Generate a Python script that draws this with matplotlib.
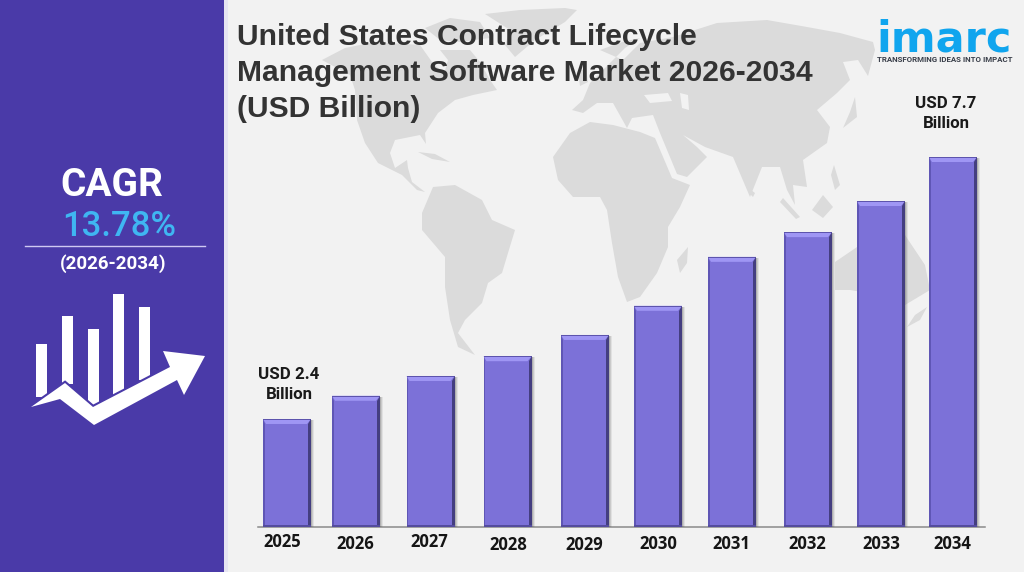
import matplotlib
matplotlib.use('Agg')
import matplotlib.pyplot as plt
from matplotlib.patches import Polygon, Rectangle

years = ['2025', '2026', '2027', '2028', '2029', '2030', '2031', '2032', '2033', '2034']
market_size = [2.40, 2.87, 3.27, 3.67, 4.10, 4.69, 5.68, 6.18, 6.81, 7.70]

# layout, in reference pixels
bar_centers = [287, 356, 430.5, 507.5, 585, 658, 732, 808, 881, 953]
bar_width = 48
label_x = [282, 355, 429, 508, 584, 658, 731, 807, 881, 952]
label_y = [542, 544, 542, 545, 545, 544, 544, 544, 544, 544]
BASELINE = 527
TOP_PX = 100
BASE_VALUE = 0.215
VALUE_PER_PX = 0.02023

BG = '#f2f2f2'
SIDEBAR = '#4a3aa8'
LAND = '#dbdbdb'
BAR = '#7c71d8'

# background map, rough outlines
north_america = [(322, 60), (345, 48), (375, 42), (420, 45), (432, 62), (444, 74), (448, 60), (440, 50), (470, 50),
                 (480, 62), (490, 80), (497, 90), (473, 95), (455, 100), (438, 113), (425, 133), (426, 144), (420, 135),
                 (395, 140), (390, 153), (395, 168), (407, 160), (408, 168), (412, 182), (425, 192), (417, 190),
                 (402, 175), (378, 163), (365, 143), (357, 120), (355, 90), (350, 75)]
greenland = [(485, 14), (520, 10), (565, 8), (577, 10), (565, 22), (535, 40), (515, 57), (505, 45), (510, 30)]
arctic = [(425, 28), (450, 18), (480, 22), (490, 38), (460, 42), (440, 40)]
cuba = [(418, 152), (435, 154), (450, 162), (432, 159)]
south_america = [(433, 187), (455, 185), (482, 200), (492, 220), (515, 230), (508, 253), (502, 273), (488, 283),
                 (482, 303), (465, 320), (458, 333), (475, 355), (458, 347), (450, 320), (445, 287), (445, 257),
                 (422, 230), (422, 213)]
africa = [(553, 157), (570, 133), (590, 122), (613, 125), (640, 132), (655, 138), (672, 178), (690, 185), (680, 207),
          (668, 227), (668, 247), (657, 273), (640, 297), (627, 302), (618, 277), (612, 243), (607, 210), (600, 197),
          (573, 197), (558, 180)]
madagascar = [(688, 247), (687, 263), (680, 273), (677, 260)]
eurasia = [(583, 100), (572, 110), (583, 113), (597, 103), (613, 103), (627, 128), (632, 118), (653, 115), (660, 133),
           (677, 174), (687, 177), (707, 157), (697, 147), (683, 135), (705, 147), (733, 157), (750, 197), (762, 167),
           (780, 167), (787, 190), (795, 205), (793, 185), (807, 187), (803, 160), (827, 143), (830, 127), (817, 110),
           (837, 93), (850, 80), (843, 62), (858, 60), (868, 76), (875, 50), (873, 42), (840, 33), (807, 27), (767, 20),
           (717, 23), (673, 37), (640, 43), (623, 60), (600, 50), (622, 42), (640, 38), (625, 48), (590, 83)]
black_sea = [(644, 95), (668, 93), (672, 101), (650, 103)]
caspian = [(680, 93), (688, 95), (689, 110), (682, 108)]
japan = [(855, 97), (857, 117), (843, 128), (850, 112)]
uk = [(578, 72), (586, 68), (588, 82), (580, 86)]
sri_lanka = [(751, 190), (755, 193), (753, 197), (750, 194)]
sumatra = [(783, 198), (800, 217), (796, 219), (780, 202)]
borneo = [(823, 195), (833, 207), (823, 218), (812, 210)]
philippines = [(834, 165), (840, 185), (835, 190), (831, 175)]
australia = [(835, 262), (860, 245), (880, 235), (905, 235), (925, 265), (930, 290), (905, 305), (880, 295),
             (850, 290), (835, 290)]
new_zealand = [(927, 307), (920, 320), (907, 327), (915, 315)]
land_shapes = [north_america, greenland, arctic, cuba, south_america, africa, madagascar, eurasia, japan, uk,
               sri_lanka, sumatra, borneo, philippines, australia, new_zealand]
water_shapes = [black_sea, caspian]

# sidebar icon
icon_bars = [(36, 344, 11, 53), (62, 316, 11, 68), (88, 329, 11, 76), (113, 294, 11, 101), (139, 307, 11, 73)]
icon_arrow = [(31, 407), (65, 383), (93, 407), (170, 367), (163, 351), (205, 356), (184, 395), (177, 380), (94, 425),
              (60, 399)]

fig = plt.figure(figsize=(10.24, 5.72), dpi=100, facecolor=BG)

# full figure layer in pixel coordinates for everything that is not a data mark
bg = fig.add_axes([0, 0, 1, 1])
bg.set_xlim(0, 1024)
bg.set_ylim(572, 0)
bg.axis('off')

for shape in land_shapes:
    bg.add_patch(Polygon(shape, closed=True, fc=LAND, ec='none', zorder=1))
for shape in water_shapes:
    bg.add_patch(Polygon(shape, closed=True, fc=BG, ec='none', zorder=1.1))

bg.add_patch(Rectangle((224, 0), 4, 572, fc='#e6e4f2', ec='none', zorder=2))
bg.add_patch(Rectangle((0, 0), 224, 572, fc=SIDEBAR, ec='none', zorder=2))
for left, top, w, h in icon_bars:
    bg.add_patch(Rectangle((left, top), w, h, fc='white', ec='none', zorder=3))
bg.add_patch(Polygon(icon_arrow, closed=True, fc=SIDEBAR, ec=SIDEBAR, lw=3, zorder=3.1))
bg.add_patch(Polygon(icon_arrow, closed=True, fc='white', ec='none', zorder=3.2))

bg.text(112, 186, 'CAGR', family='Roboto', weight='bold', fontsize=28, color='white', ha='center', va='center', zorder=4)
bg.text(119, 226, '13.78%', family='Roboto', weight='medium', fontsize=25, color='#3fb6f2', ha='center', va='center', zorder=4)
bg.plot([25, 205], [246, 246], color='#cfc9f2', lw=1, zorder=4)
bg.text(113, 264, '(2026-2034)', family='Roboto', weight='bold', fontsize=13.5, color='white', ha='center', va='center', zorder=4)

title = 'United States Contract Lifecycle\nManagement Software Market 2026-2034\n(USD Billion)'
bg.text(237, 73, title, family='Liberation Sans', weight='bold', fontsize=21.6, color='#333333', ha='left',
        va='center', linespacing=1.38, zorder=6)

# logo
bg.text(876, 52, 'imarc', family='DejaVu Sans', weight='bold', fontsize=31, color='#10a5ee', ha='left', va='baseline', zorder=6)
bg.text(945, 59.5, 'TRANSFORMING IDEAS INTO IMPACT', family='Roboto', weight='bold', fontsize=5.7, color='#3a3f4a',
        ha='center', va='center', zorder=6)

# bars
ax = fig.add_axes([0, (572 - BASELINE) / 572, 1, (BASELINE - TOP_PX) / 572])
ax.patch.set_alpha(0)
ax.set_xlim(0, 1024)
ax.set_ylim(BASE_VALUE, BASE_VALUE + (BASELINE - TOP_PX) * VALUE_PER_PX)
ax.axis('off')

ax.plot([258, 985], [BASE_VALUE, BASE_VALUE], color='#8a8a8a', lw=1.1, zorder=2, clip_on=False)
for cx, value in zip(bar_centers, market_size):
    # soft shadow to the right
    for off, alpha in [(3, 0.10), (2, 0.16), (1, 0.22)]:
        ax.bar(cx + off, value - BASE_VALUE - VALUE_PER_PX, bar_width, bottom=BASE_VALUE, color='#555555',
               alpha=alpha, zorder=2.5)
bars = ax.bar(bar_centers, [v - BASE_VALUE for v in market_size], bar_width, bottom=BASE_VALUE, color=BAR,
              edgecolor='none', zorder=3)

for rect in bars:
    x0 = rect.get_x()
    x1 = x0 + rect.get_width()
    top = rect.get_y() + rect.get_height()
    strip = 5 * VALUE_PER_PX
    edge = 2 * VALUE_PER_PX
    ax.add_patch(Polygon([(x0, top), (x1, top), (x1 - 4, top - strip), (x0 + 3, top - strip)], closed=True,
                         fc='#9f96f4', ec='none', zorder=4))
    ax.add_patch(Rectangle((x0, top - edge / 2), x1 - x0, edge / 2, fc='#5d54ad', ec='none', zorder=4.1))
    ax.add_patch(Polygon([(x1, top), (x1, BASE_VALUE), (x1 - 3, BASE_VALUE), (x1 - 3, top - strip)], closed=True,
                         fc='#443e80', ec='none', zorder=4.2))
    ax.add_patch(Polygon([(x0, top), (x0, BASE_VALUE), (x0 + 1.5, BASE_VALUE), (x0 + 1.5, top - strip)], closed=True,
                         fc='#5f56b5', ec='none', zorder=4.2))
    ax.add_patch(Rectangle((x0, BASE_VALUE), x1 - x0, edge, fc='#544c9e', ec='none', zorder=4.3))

for x, y, year in zip(label_x, label_y, years):
    bg.text(x, y, year, family='Open Sans', weight='bold', fontsize=12, color='#151515', ha='center', va='center', zorder=6)

ax.annotate(f'USD {market_size[0]:.1f}\nBillion', xy=(289, market_size[0]), xytext=(0, 17), textcoords='offset pixels',
            family='Roboto', weight='bold', fontsize=12.2, color='#1a1a1a', ha='center', va='bottom', linespacing=1.45,
            annotation_clip=False, zorder=6)
ax.annotate(f'USD {market_size[-1]:.1f}\nBillion', xy=(946, market_size[-1]), xytext=(0, 26), textcoords='offset pixels',
            family='Roboto', weight='bold', fontsize=12.2, color='#1a1a1a', ha='center', va='bottom', linespacing=1.45,
            annotation_clip=False, zorder=6)

fig.savefig('out.png', dpi=100, facecolor=BG)
